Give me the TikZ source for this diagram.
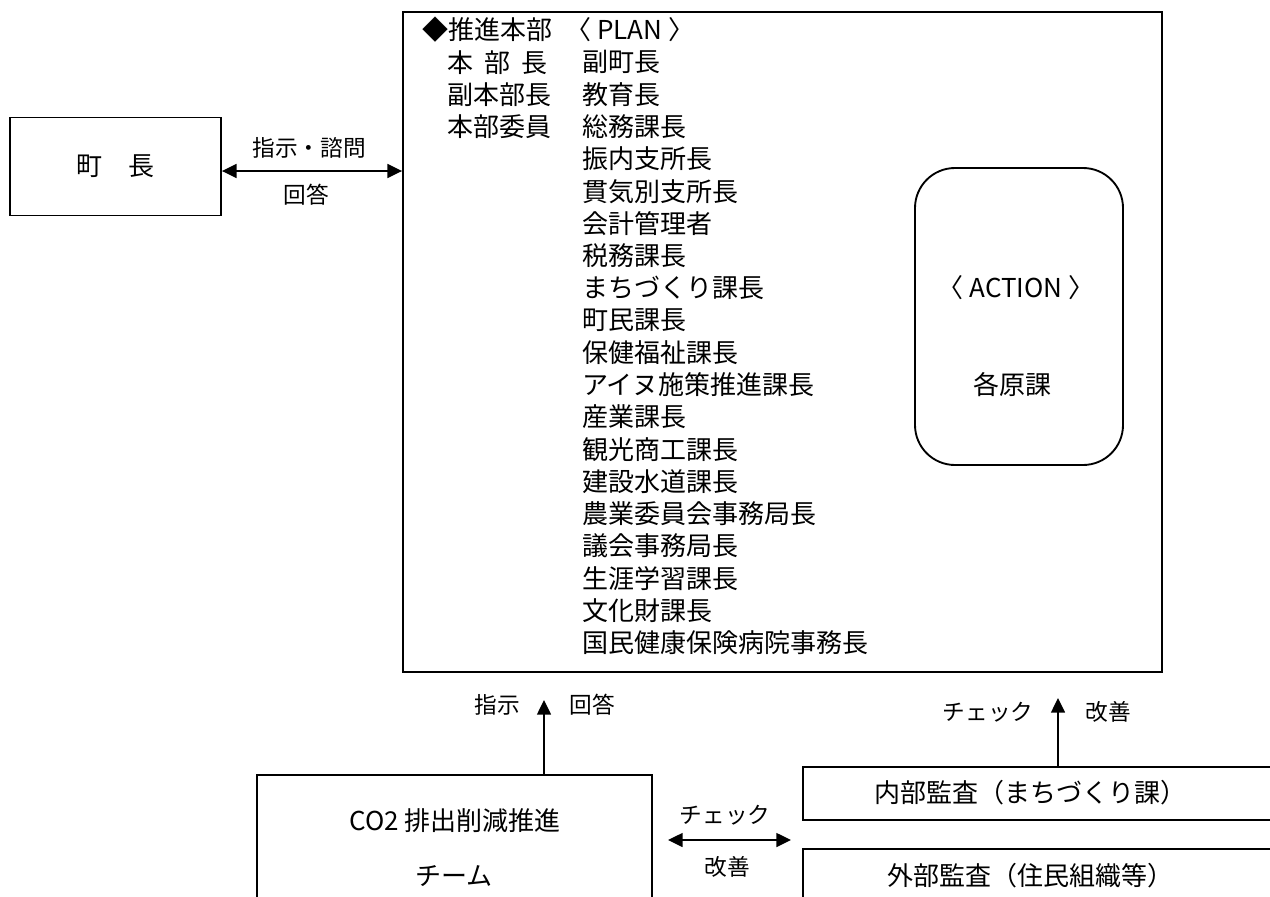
\documentclass[tikz,border=0pt]{standalone}
\usepackage{fontspec}
\setmainfont{Noto Sans CJK JP}
\usetikzlibrary{arrows.meta}
\tikzset{
  box/.style={draw, line width=1.4pt, inner sep=0pt},
  txt/.style={font=\fontsize{19.5}{22}\selectfont, inner sep=0pt},
  lbl/.style={font=\fontsize{17}{19}\selectfont, inner sep=0pt},
  arr/.style={line width=1.1pt, -{Triangle[length=11pt,width=10.5pt]}},
  darr/.style={line width=1.1pt, {Triangle[length=11pt,width=10.5pt]}-{Triangle[length=11pt,width=10.5pt]}}
}
\begin{document}
\begin{tikzpicture}[x=0.75pt,y=-0.75pt]
\useasboundingbox (0,0) rectangle (1270,896);
\clip (0,0) rectangle (1270,896);
% boxes
\node[box, minimum width=158.25pt, minimum height=73.5pt] (mayor) at (115.5,166.5) {};
\node[txt] (mayortxt) at (115,166) {町　長};
\node[box, minimum width=569.25pt, minimum height=495pt] (main) at (782.5,342) {};
\node[box, rounded corners=30pt, minimum width=156pt, minimum height=222.75pt] (action) at (1019,316.5) {};
\node[txt] (actiontxt) at (1016,288) {〈 ACTION 〉};
\node[txt] (genka) at (1012,385) {各原課};
\node[box, minimum width=296.25pt, minimum height=120pt] (co2) at (454.5,855) {};
\node[txt] (co2a) at (455,821) {CO2 排出削減推進};
\node[txt] (co2b) at (454,876) {チーム};
\node[box, minimum width=372.75pt, minimum height=39.75pt] (naibu) at (1051.5,793.5) {};
\node[txt] (naibutxt) at (1030,793) {内部監査（まちづくり課）};
\node[box, minimum width=372.75pt, minimum height=60.75pt] (gaibu) at (1051.5,889.5) {};
\node[txt] (gaibutxt) at (1030,876) {外部監査（住民組織等）};
% main box text
\def\ystep{32.26}
\node[txt, anchor=west] (r0a) at (422,30) {◆推進本部};
\node[txt, anchor=west] (r0b) at (565,30) {〈 PLAN 〉};
\node[txt, anchor=west] (r1a) at (447,62.26) {本\hspace{0.42em}部\hspace{0.42em}長};
\node[txt, anchor=west] (r1b) at (582,62.26) {副町長};
\node[txt, anchor=west] (r2a) at (447,94.52) {副本部長};
\node[txt, anchor=west] (r2b) at (582,94.52) {教育長};
\node[txt, anchor=west] (r3a) at (447,126.78) {本部委員};
\node[txt, anchor=west] (r3b) at (582,126.78) {総務課長};
\foreach \t [count=\i from 4] in {振内支所長,貫気別支所長,会計管理者,税務課長,まちづくり課長,町民課長,保健福祉課長,アイヌ施策推進課長,産業課長,観光商工課長,建設水道課長,農業委員会事務局長,議会事務局長,生涯学習課長,文化財課長,国民健康保険病院事務長}{
  \node[txt, anchor=west] (r\i) at (582,30+\i*\ystep) {\t};
}
% connectors
\coordinate (ay) at (0,171);
\draw[darr] (mayor.east |- ay) -- (main.west |- ay);
\node[lbl] (l1) at (309,148) {指示・諮問};
\node[lbl] (l2) at (306,195) {回答};
\coordinate (t1) at (544,700);
\draw[arr] (co2.north -| t1) -- (t1);
\node[lbl] (l3) at (497,705) {指示};
\node[lbl] (l4) at (592,705) {回答};
\coordinate (t2) at (1058,698);
\draw[arr] (naibu.north -| t2) -- (t2);
\node[lbl] (l5) at (988,712) {チェック};
\node[lbl] (l6) at (1108,712) {改善};
\coordinate (a1) at (668,840);
\coordinate (a2) at (791,840);
\draw[darr] (a1) -- (a2);
\node[lbl] (l7) at (725,815) {チェック};
\node[lbl] (l8) at (727,867) {改善};
\end{tikzpicture}
\end{document}
